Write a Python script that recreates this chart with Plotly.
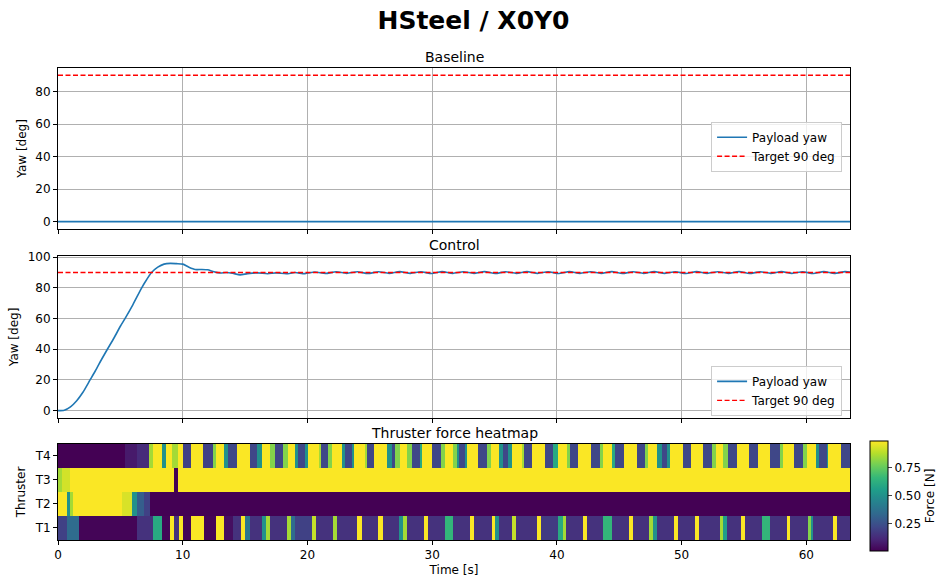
import plotly.graph_objs as go

# time axis end
t_end = 63.5

# baseline run: yaw stays at zero
base_t = [0, 63.5]
base_yaw = [0, 0]

# control run: payload yaw
ctrl_t = [0, 0.5, 1.0, 1.5, 2.0, 2.57, 3.0, 3.5, 3.96, 4.5, 5.0, 5.37, 6.0, 6.71, 7.0, 7.5,
          8.0, 8.5, 9.0, 9.5, 10.0, 10.5, 11.0, 11.5, 12.0, 12.5, 13.0, 13.5, 14.0, 14.6,
          15.2, 16.0, 16.8, 17.5, 18.3, 19.0, 19.8, 20.6, 21.45, 22.3, 23.15, 24.0, 24.85,
          25.7, 26.55, 27.4, 28.25, 29.1, 29.95, 30.8, 31.65, 32.5, 33.35, 34.2, 35.05,
          35.9, 36.75, 37.6, 38.45, 39.3, 40.15, 41.0, 41.85, 42.7, 43.55, 44.4, 45.25,
          46.1, 46.95, 47.8, 48.65, 49.5, 50.35, 51.2, 52.05, 52.9, 53.75, 54.6, 55.45,
          56.3, 57.15, 58.0, 58.85, 59.7, 60.55, 61.4, 62.25, 63.1, 63.5]
ctrl_yaw = [0, 0.3, 2.5, 6.5, 12, 20, 26, 33.5, 40, 47.5, 55, 60, 69, 80, 84, 90,
            93.5, 95.5, 96, 95.8, 95.5, 93.5, 92, 92, 91.8, 90.5, 89.7, 90, 89.5, 88.5,
            89.3, 89.8, 89.2, 89.8, 89.2, 90.0, 89.3, 90.4, 89.4, 90.5, 89.5, 90.5, 89.4,
            90.5, 89.5, 90.6, 89.5, 90.5, 89.4, 90.6, 89.5, 90.5, 89.5, 90.6, 89.4,
            90.5, 89.5, 90.6, 89.5, 90.5, 89.4, 90.6, 89.5, 90.5, 89.5, 90.6, 89.4,
            90.5, 89.5, 90.6, 89.5, 90.5, 89.4, 90.6, 89.5, 90.5, 89.5, 90.6, 89.4,
            90.5, 89.5, 90.6, 89.5, 90.5, 89.4, 90.6, 89.5, 90.6, 90.3]

target = 90

# thruster forces: segment start times and force values per thruster
t1_start = [0, 0.7, 1.7, 6.3, 7.6, 8.33, 8.97, 9.29, 9.7, 10.02, 10.66, 11.7, 12.66, 13.3,
            14.0, 14.66, 14.98, 15.38, 16.35, 16.67, 16.99, 18.35, 18.67, 18.99, 20.35,
            20.67, 22.04, 22.36, 23.96, 24.36, 25.64, 26.04, 27.32, 27.64, 27.96, 29.33,
            29.65, 31.01, 31.65, 33.01, 33.33, 34.78, 35.02, 35.34, 36.38, 36.7, 38.38,
            38.7, 40.06, 40.46, 40.71, 42.07, 42.39, 43.67, 44.39, 45.75, 46.07, 47.36,
            47.68, 48.0, 49.36, 49.68, 51.04, 51.36, 53.04, 53.35, 53.61, 54.73, 55.05,
            56.41, 57.05, 58.41, 58.65, 60.1, 60.35, 60.5, 62.1, 62.42]
t1_val = [0.2, 0.35, 0.02, 0.15, 0.6, 0.02, 0.98, 0.15, 0.98, 0.02, 0.98, 0.02, 0.98, 0.05,
          0.15, 0.98, 0.4, 0.15, 0.5, 0.85, 0.15, 0.85, 0.35, 0.2, 0.9,
          0.15, 0.85, 0.15, 0.98, 0.15, 0.98, 0.15, 0.5, 0.85, 0.15, 0.98,
          0.15, 0.65, 0.15, 0.98, 0.15, 0.98, 0.5, 0.15, 0.9, 0.15, 0.98,
          0.18, 0.6, 0.85, 0.15, 0.98, 0.15, 0.65, 0.15, 0.98, 0.15, 0.85,
          0.5, 0.15, 0.98, 0.15, 0.98, 0.15, 0.85, 0.55, 0.15, 0.98, 0.15,
          0.65, 0.15, 0.98, 0.15, 0.8, 0.5, 0.15, 0.98, 0.15]

t2_start = [0, 0.7, 1.0, 1.2, 5.1, 5.95, 6.33, 6.9, 7.4]
t2_val = [0.98, 0.5, 0.85, 0.98, 0.93, 0.5, 0.3, 0.2, 0.01]

t3_start = [0, 0.3, 1.0, 9.3, 9.65]
t3_val = [0.85, 0.92, 0.98, 0.01, 0.98]

t4_start = [0, 5.4, 6.3, 7.3, 7.6, 8.33, 8.65, 9.1, 9.6, 10.0, 10.66, 11.62, 12.42, 12.66,
            13.3, 13.62, 14.34, 15.38, 15.95, 16.35, 16.99, 17.39, 18.03, 18.43, 18.99,
            19.23, 19.79, 20.03, 20.9, 21.07, 21.63, 21.96, 22.76, 23.0, 23.56, 23.72,
            24.6, 24.76, 25.32, 26.36, 26.76, 27.0, 27.4, 27.96, 28.37, 29.01, 29.17,
            29.97, 30.69, 31.01, 31.65, 31.97, 32.13, 32.61, 32.77, 33.65, 34.38, 34.7,
            35.34, 35.66, 36.06, 36.38, 37.18, 37.34, 37.98, 39.02, 39.66, 40.06, 40.79,
            41.03, 41.67, 42.71, 43.43, 43.67, 44.39, 44.63, 45.35, 46.39, 47.04, 47.28,
            48.0, 48.4, 48.8, 49.04, 50.08, 50.72, 51.68, 52.4, 52.72, 53.29, 53.69,
            54.41, 55.37, 56.09, 57.05, 57.85, 58.09, 58.97, 59.7, 60.02, 60.74, 60.98,
            61.62, 61.7, 62.74]
t4_val = [0.01, 0.08, 0.13, 0.85, 0.98, 0.5, 0.98, 0.85, 0.98, 0.2, 0.98, 0.2, 0.8, 0.98,
          0.5, 0.22, 0.98, 0.22, 0.5, 0.98, 0.8, 0.22, 0.8, 0.98, 0.5,
          0.22, 0.5, 0.98, 0.85, 0.22, 0.8, 0.98, 0.5, 0.22, 0.5, 0.98,
          0.85, 0.22, 0.98, 0.5, 0.22, 0.8, 0.98, 0.8, 0.22, 0.6, 0.98,
          0.22, 0.8, 0.98, 0.8, 0.5, 0.22, 0.5, 0.98, 0.22, 0.8, 0.98,
          0.5, 0.22, 0.5, 0.98, 0.85, 0.22, 0.98, 0.22, 0.6, 0.98, 0.8,
          0.22, 0.98, 0.22, 0.8, 0.98, 0.6, 0.22, 0.98, 0.22, 0.8, 0.98,
          0.5, 0.22, 0.5, 0.98, 0.22, 0.98, 0.22, 0.8, 0.98, 0.8, 0.22,
          0.98, 0.22, 0.98, 0.22, 0.8, 0.98, 0.22, 0.8, 0.98, 0.5, 0.22,
          0.5, 0.98, 0.22]

thrusters = ['T1', 'T2', 'T3', 'T4']
x_ticks = [0, 10, 20, 30, 40, 50, 60]

font = 'DejaVu Sans'
blue = '#1f77b4'

data = []
# yaw panels
for i, (tt, yy) in enumerate([(base_t, base_yaw), (ctrl_t, ctrl_yaw)]):
    ax = '' if i == 0 else '2'
    leg = 'legend' if i == 0 else 'legend2'
    data.append(go.Scatter(x=tt, y=yy, mode='lines', name='Payload yaw',
                           line=dict(color=blue, width=1.6, shape='spline', smoothing=0.6),
                           xaxis='x' + ax, yaxis='y' + ax, legend=leg))
    data.append(go.Scatter(x=[0, t_end], y=[target, target], mode='lines',
                           name='Target 90 deg',
                           line=dict(color='red', width=1.4, dash='5px,2.5px'),
                           xaxis='x' + ax, yaxis='y' + ax, legend=leg))

# heatmap rows, one trace per thruster
for k, (st, vals) in enumerate([(t1_start, t1_val), (t2_start, t2_val),
                                (t3_start, t3_val), (t4_start, t4_val)]):
    data.append(go.Heatmap(x=st + [t_end], y=[k - 0.5, k + 0.5], z=[vals],
                           coloraxis='coloraxis', xaxis='x3', yaxis='y3',
                           hoverinfo='skip'))

axis_style = dict(showline=True, linecolor='black', linewidth=1, mirror=True,
                  ticks='outside', ticklen=4, tickcolor='black', zeroline=False,
                  automargin=False, tickfont=dict(size=12, color='black'))
grid = dict(showgrid=True, gridcolor='#b0b0b0', gridwidth=0.8)

legend_style = dict(bgcolor='rgba(255,255,255,0.8)', bordercolor='#cccccc',
                    borderwidth=1, font=dict(size=12, color='black'),
                    xanchor='right', yanchor='top', x=0.99)

layout = go.Layout(
    width=947, height=587,
    margin=dict(l=58, r=97, t=68, b=47, autoexpand=False),
    plot_bgcolor='white', paper_bgcolor='white',
    font=dict(family=font, size=12, color='black'),
    title=dict(text='<b>HSteel / X0Y0</b>', x=0.5, xref='container', xanchor='center',
               y=1 - 20 / 587, yanchor='middle', font=dict(size=25)),
    xaxis=dict(domain=[0, 1], range=[0, t_end], tickvals=x_ticks, showticklabels=False,
               anchor='y', **axis_style, **grid),
    yaxis=dict(domain=[0.659, 1.0], range=[-4.5, 94.5], tickvals=[0, 20, 40, 60, 80],
               title=dict(text='Yaw [deg]', font=dict(size=12), standoff=6),
               anchor='x', **axis_style, **grid),
    xaxis2=dict(domain=[0, 1], range=[0, t_end], tickvals=x_ticks, showticklabels=False,
                anchor='y2', **axis_style, **grid),
    yaxis2=dict(domain=[0.2585, 0.6017], range=[-4.8, 100.8],
                tickvals=[0, 20, 40, 60, 80, 100],
                title=dict(text='Yaw [deg]', font=dict(size=12), standoff=6),
                anchor='x2', **axis_style, **grid),
    xaxis3=dict(domain=[0, 1], range=[0, t_end], tickvals=x_ticks,
                title=dict(text='Time [s]', font=dict(size=12), standoff=4),
                anchor='y3', showgrid=False, **axis_style),
    yaxis3=dict(domain=[0, 0.2034], range=[-0.5, 3.5], tickvals=[0, 1, 2, 3],
                ticktext=thrusters, title=dict(text='Thruster', font=dict(size=12), standoff=6),
                anchor='x3', showgrid=False, **axis_style),
    coloraxis=dict(colorscale='Viridis', cmin=0.01, cmax=0.985,
                   colorbar=dict(x=(870 - 58) / 792, xanchor='left', xpad=0, ypad=0,
                                 thickness=18, lenmode='pixels', len=110,
                                 y=(540 - 496) / 472, yanchor='middle',
                                 tickvals=[0.25, 0.5, 0.75], ticktext=['0.25', '0.50', '0.75'],
                                 ticks='outside', ticklen=4, outlinecolor='black',
                                 outlinewidth=1, tickfont=dict(size=12),
                                 title=dict(text='Force [N]', side='right',
                                            font=dict(size=12)))),
    legend=dict(y=0.886, **legend_style),
    legend2=dict(y=0.369, **legend_style),
    annotations=[
        dict(text='Baseline', x=0.5, y=(540 - 57) / 472, xref='paper', yref='paper',
             showarrow=False, font=dict(size=14), yanchor='middle'),
        dict(text='Control', x=0.5, y=(540 - 245) / 472, xref='paper', yref='paper',
             showarrow=False, font=dict(size=14), yanchor='middle'),
        dict(text='Thruster force heatmap', x=0.5, y=(540 - 433) / 472, xref='paper',
             yref='paper', showarrow=False, font=dict(size=14), yanchor='middle'),
    ],
)

fig = go.Figure(data=data, layout=layout)
# drop the browser's default page margin so the figure sits at the window corner
fig.write_html('out.html', config={'displayModeBar': False},
               post_script="document.body.style.margin='0';")
